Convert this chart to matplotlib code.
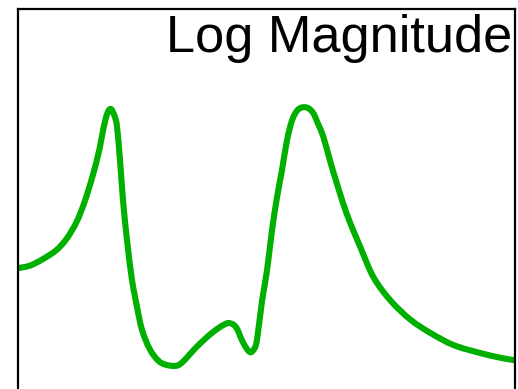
import matplotlib
matplotlib.use("Agg")
import matplotlib.pyplot as plt
from matplotlib.path import Path
from matplotlib.patches import PathPatch

# Normalized frequency (fraction of Nyquist) and log magnitude (dB)
freq = [0.000, 0.024, 0.050, 0.079, 0.099, 0.119, 0.135, 0.151, 0.165, 0.173,
        0.181, 0.188, 0.196, 0.200, 0.206, 0.212, 0.220, 0.230, 0.240, 0.250,
        0.266, 0.286, 0.310, 0.327, 0.361, 0.393, 0.421, 0.433, 0.441, 0.454,
        0.468, 0.478, 0.482, 0.492, 0.502, 0.512, 0.522, 0.532, 0.542, 0.552,
        0.564, 0.581, 0.595, 0.605, 0.615, 0.629, 0.643, 0.663, 0.690, 0.716,
        0.750, 0.790, 0.831, 0.877, 0.931, 0.972, 1.000]
mag_db = [-19.9, -19.6, -18.8, -17.6, -16.2, -14.1, -11.6, -8.4, -5.0, -2.4,
          -0.5, 0.0, -1.0, -2.1, -6.2, -11.2, -16.2, -21.2, -24.6, -27.5,
          -30.0, -31.6, -32.1, -31.9, -29.7, -27.9, -26.8, -26.9, -27.4, -29.2,
          -30.4, -29.8, -28.8, -24.0, -20.2, -15.2, -11.1, -7.7, -4.0, -1.5,
          -0.1, 0.2, -0.5, -1.9, -3.4, -6.5, -9.4, -13.2, -17.3, -21.0,
          -23.9, -26.3, -28.0, -29.5, -30.5, -31.1, -31.4]


def smooth_path(xs, ys):
    """Cubic Bezier path through the samples (Catmull-Rom tangents)."""
    pts = list(zip(xs, ys))
    n = len(pts)
    verts = [pts[0]]
    codes = [Path.MOVETO]

    def slope(i):
        lo = max(i - 1, 0)
        hi = min(i + 1, n - 1)
        return (pts[hi][1] - pts[lo][1]) / (pts[hi][0] - pts[lo][0])

    for i in range(n - 1):
        x1, y1 = pts[i]
        x2, y2 = pts[i + 1]
        h = x2 - x1
        m1, m2 = slope(i), slope(i + 1)
        verts += [(x1 + h / 3, y1 + m1 * h / 3),
                  (x2 - h / 3, y2 - m2 * h / 3),
                  (x2, y2)]
        codes += [Path.CURVE4] * 3
    return Path(verts, codes)


fig = plt.figure(figsize=(5.18, 3.89), dpi=100)
ax = fig.add_axes([17.5 / 518, -0.15, (514.5 - 17.5) / 518, 380 / 389 + 0.15])

ax.add_patch(PathPatch(smooth_path(freq, mag_db), facecolor="none",
                       edgecolor="#00b000", linewidth=4.4, capstyle="butt",
                       joinstyle="round"))

# y range: top of the frame at +12.5 dB, scale 8 px per dB
ax.set_xlim(0, 1)
top_db = 12.5
bottom_db = top_db - (380 / 389 + 0.15) * 389 / 8
ax.set_ylim(bottom_db, top_db)

ax.set_xticks([])
ax.set_yticks([])
for s in ax.spines.values():
    s.set_linewidth(1.6)
    s.set_color("black")

fig.text(512.5 / 518, (389 - 52) / 389, "Log Magnitude", ha="right", va="baseline",
         fontsize=37.7, family="Liberation Sans", color="black")

fig.savefig("out.png", dpi=100)
